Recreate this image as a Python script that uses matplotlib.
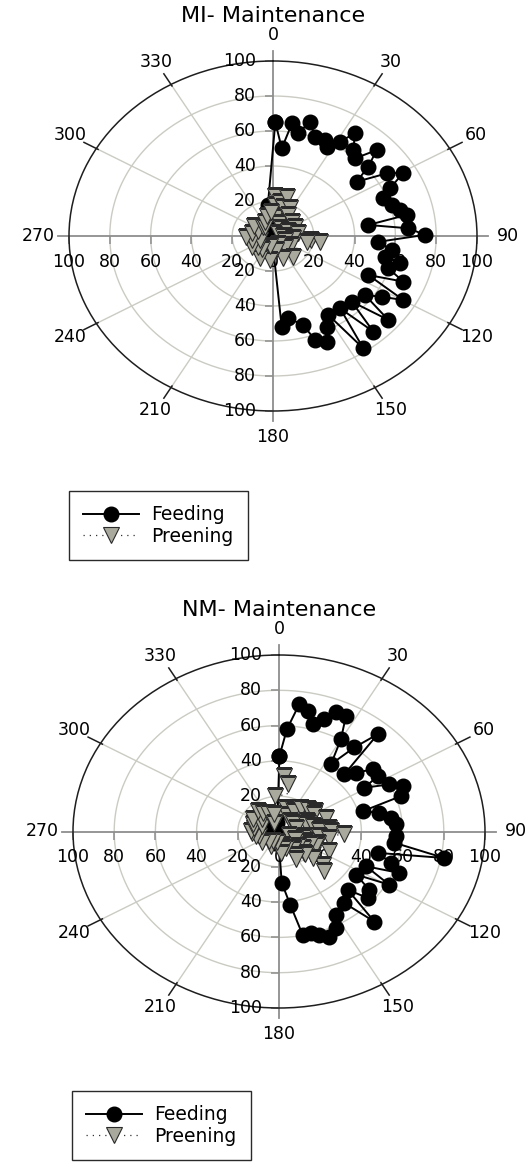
import numpy as np
import matplotlib
matplotlib.use('Agg')
import matplotlib.pyplot as plt

# angles in degrees, clockwise from the top; values in %
mi_feed_deg = [1, 4.9, 8.3, 11.9, 15.5, 20, 24.9, 27.3, 31.3, 34.4, 38.7, 42.2, 46, 49.7,
               52.9, 57.3, 60.5, 64.6, 68.3, 73.1, 76.6, 79.6, 82.3, 86.2, 89.5, 93.7, 97.8,
               102.1, 104, 108.1, 112.2, 115.5, 119.8, 123.1, 126.8, 130.3, 134.2, 138, 141.5,
               145.4, 149, 153.1, 156.5, 160.9, 163.7, 170.9, 175.3,
               180, 188, 195, 203, 210, 218, 225, 233, 240, 248, 255, 263, 270, 278, 285,
               293, 300, 308, 315, 323, 330, 338, 345, 352]
mi_feed_val = [65, 50.3, 65.4, 60, 67.8, 60.3, 60.5, 57.4, 63.1, 71.1, 63, 59.9, 70.7, 61.2,
               51.4, 66.2, 73.4, 63.5, 58.2, 60.8, 64, 66.6, 47.1, 66.5, 74.5, 51.7, 58.7,
               56.2, 64.2, 59.5, 69, 51.8, 73.6, 63.6, 56.3, 74.1, 53.8, 73.5, 52.8,
               78, 52.6, 58.1, 65.9, 62.9, 53, 47.6, 52,
               6, 3, 5, 2, 4, 6, 3, 5, 2, 4, 7, 3, 5, 8, 4,
               6, 3, 5, 7, 4, 6, 3, 9, 18]

mi_preen_deg = [2.5, 3, 5, 10, 16, 16.5, 22, 27, 32, 40, 48, 56, 64, 70, 82, 88, 96, 97, 98,
                101, 110, 120, 136, 140, 150, 159, 170, 186, 195, 207, 215, 230, 240, 250,
                257, 268, 278, 290, 300, 315, 324, 335, 345, 355]
mi_preen_val = [23, 17.7, 11, 20, 17.4, 23.5, 8, 18, 14, 6, 12.3, 3, 12, 8, 12.4, 5, 9.9, 19,
                23.2, 16.8, 6, 10, 8.5, 15.5, 5, 13.7, 8, 13.8, 6, 14.2, 9, 9.6, 12, 7,
                10.7, 13, 10.5, 8, 11, 7, 6.6, 9, 12, 14]

nm_feed_deg = [0.3, 3.8, 7.8, 11.5, 15.1, 19, 22.3, 26.4, 29.9, 33.5, 37.5, 41, 44.4, 48.2,
               52.3, 56.8, 59.1, 63.5, 66.8, 71.3, 74.2, 77.7, 81.8, 86, 92.7, 96.5, 100.6,
               104.2, 108.1, 111.9, 115, 119.4, 123.1, 127, 131.2, 134.7, 137.8, 142, 149.6,
               153.1, 157.7, 161.5, 165, 168.9, 172.5, 177.4,
               181, 189, 197, 205, 213, 221, 229, 237, 245, 253, 261, 269, 277, 285, 293,
               301, 309, 317, 325, 333, 341, 349, 356]
nm_feed_val = [42.8, 58.1, 72.9, 69.7, 63, 67.7, 72.9, 73.1, 60.3, 45.7, 60, 73, 45.3, 50.1,
               57.5, 57.3, 48.3, 59.8, 65.3, 62.5, 42.2, 49.8, 55, 56.9, 56.9, 56.4, 81.6,
               49.4, 57.2, 63, 46.6, 61.4, 44.7, 54.8, 57.2, 46.9, 68.9, 51.4, 54.7,
               61.3, 64.3, 61.7, 59.6, 59.6, 41.9, 29.1,
               6, 4, 7, 3, 5, 2, 4, 6, 3, 5, 2, 4, 6, 3, 5,
               7, 4, 6, 3, 5, 8, 5, 10]

nm_preen_deg = [1, 4.7, 9, 15, 22, 28.5, 33, 38.7, 42, 48, 54, 56.4, 60.4, 66, 71, 71.5, 73,
                76, 80, 84, 85, 87, 89.6, 93, 98, 99, 102, 104, 108.7, 109, 112.4, 113, 114.6,
                116, 120, 128, 131.6, 132, 132.4, 134.5, 135.5, 136, 140, 146.7, 150, 152.4,
                160, 166, 168, 175, 190, 205, 208, 220.5, 235, 254, 256, 265, 271, 280, 287.6,
                290, 298, 310, 318, 323, 333, 335, 345, 355]
nm_preen_val = [9.7, 31.5, 27, 14, 10, 14.2, 13.7, 17.3, 8, 18.7, 8.4, 20.8, 19.7, 15, 24.1,
                14.9, 13.7, 8.5, 17, 20.6, 24.5, 19.4, 25.4, 31.7, 19.8, 24.6, 12.8, 12, 20,
                5.3, 19.5, 14.2, 26.9, 16.6, 9, 15, 28.3, 12.5, 22.2, 17.2, 31.1, 18.1, 11,
                12.2, 15.1, 17.9, 10, 7.6, 9.5, 12, 6, 9, 6.2, 7.2, 10, 10, 11.3, 13, 13.4,
                12.2, 13.2, 9, 14.5, 11, 15.4, 13.2, 11.9, 5.4, 10, 20.1]

angle_labels = [0, 30, 60, 90, 120, 150, 180, 210, 240, 270, 300, 330]
r_ticks = [20, 40, 60, 80, 100]

W, H = 528, 1162
grid_col = '#cbcbc3'
axis_col = '#8e8e8e'
tri_col = '#a9a99e'
fs = 12.5


def panel(left, top, right, bottom, title, feed_deg, feed_val, preen_deg, preen_val):
    ax = fig.add_axes([left / W, 1 - bottom / H, (right - left) / W, (bottom - top) / H],
                      projection='polar')
    ax.set_aspect('auto')
    ax.set_theta_zero_location('N')
    ax.set_theta_direction(-1)
    ax.set_ylim(0, 100)
    ax.set_xticks([])
    ax.set_yticks([])
    ax.grid(False)
    ax.spines['polar'].set_color('#1e1e1e')
    ax.spines['polar'].set_linewidth(1.1)

    # rings and spokes
    ring = np.linspace(0, 2 * np.pi, 400)
    for r in r_ticks[:-1]:
        ax.plot(ring, np.full_like(ring, r), color=grid_col, lw=1.0, zorder=1)
    for a in angle_labels:
        t = np.deg2rad(a)
        if a % 90:
            ax.plot([t, t], [0, 100], color=grid_col, lw=1.0, zorder=1)
            ax.plot([t, t], [99, 107], color='#1e1e1e', lw=1.1, clip_on=False, zorder=2)
        else:
            ax.plot([t, t], [0, 105.5], color=axis_col, lw=1.3, clip_on=False, zorder=2)
        ax.text(t, 115, str(a), ha='center', va='center', fontsize=fs)

    # radial ticks and labels on the two axes
    rt = np.array(r_ticks, dtype=float)
    for t in (0, np.pi):
        ax.plot(np.full_like(rt, t), rt, ls='none', marker=0, ms=6, mew=1.1,
                color=axis_col, clip_on=False, zorder=2)
        for r in r_ticks:
            ax.annotate(str(r), (t, r), xytext=(-17, 0), textcoords='offset pixels',
                        ha='right', va='center', fontsize=fs)
    for t in (np.pi / 2, 3 * np.pi / 2):
        ax.plot(np.full_like(rt, t), rt, ls='none', marker=3, ms=5.5, mew=1.1,
                color=axis_col, clip_on=False, zorder=2)
        for r in r_ticks:
            ax.annotate(str(r), (t, r), xytext=(0, -26), textcoords='offset pixels',
                        ha='center', va='center', fontsize=fs)
    ax.annotate('0', (0, 0), xytext=(0, -26), textcoords='offset pixels',
                ha='center', va='center', fontsize=fs)

    # feeding trace is closed around the day
    th = np.deg2rad(np.append(feed_deg, feed_deg[0]))
    rv = np.append(feed_val, feed_val[0])
    feed, = ax.plot(th, rv, color='black', lw=1.4, marker='o', ms=10.5,
                    mfc='black', mec='black', zorder=4, label='Feeding')
    preen, = ax.plot(np.deg2rad(preen_deg), preen_val, color='#333333', ls=(0, (1, 4)),
                     lw=0.9, marker='v', ms=11, mfc=tri_col, mec='#2a2a2a', mew=0.8,
                     zorder=5, label='Preening')

    cx = (left + right) / 2
    fig.text(cx / W, 1 - (top - 45) / H, title, ha='center', va='center', fontsize=16)
    return feed, preen


def legend(handles, left, top):
    fig.legend(handles=handles, labels=['Feeding', 'Preening'], loc='upper left',
               bbox_to_anchor=(left / W, 1 - top / H), bbox_transform=fig.transFigure,
               borderaxespad=0, frameon=True, fancybox=False, edgecolor='#2a2a2a',
               framealpha=1, fontsize=13.5, handlelength=3.0, handletextpad=0.65,
               borderpad=0.75, labelspacing=0.15, numpoints=1)


fig = plt.figure(figsize=(W / 100, H / 100), dpi=100)

h1 = panel(69, 61, 477, 411, 'MI- Maintenance',
           mi_feed_deg, mi_feed_val, mi_preen_deg, mi_preen_val)
legend(list(h1), 69, 491)

h2 = panel(73, 655, 485, 1008, 'NM- Maintenance',
           nm_feed_deg, nm_feed_val, nm_preen_deg, nm_preen_val)
legend(list(h2), 72, 1091)

fig.savefig('out.png', dpi=100)
